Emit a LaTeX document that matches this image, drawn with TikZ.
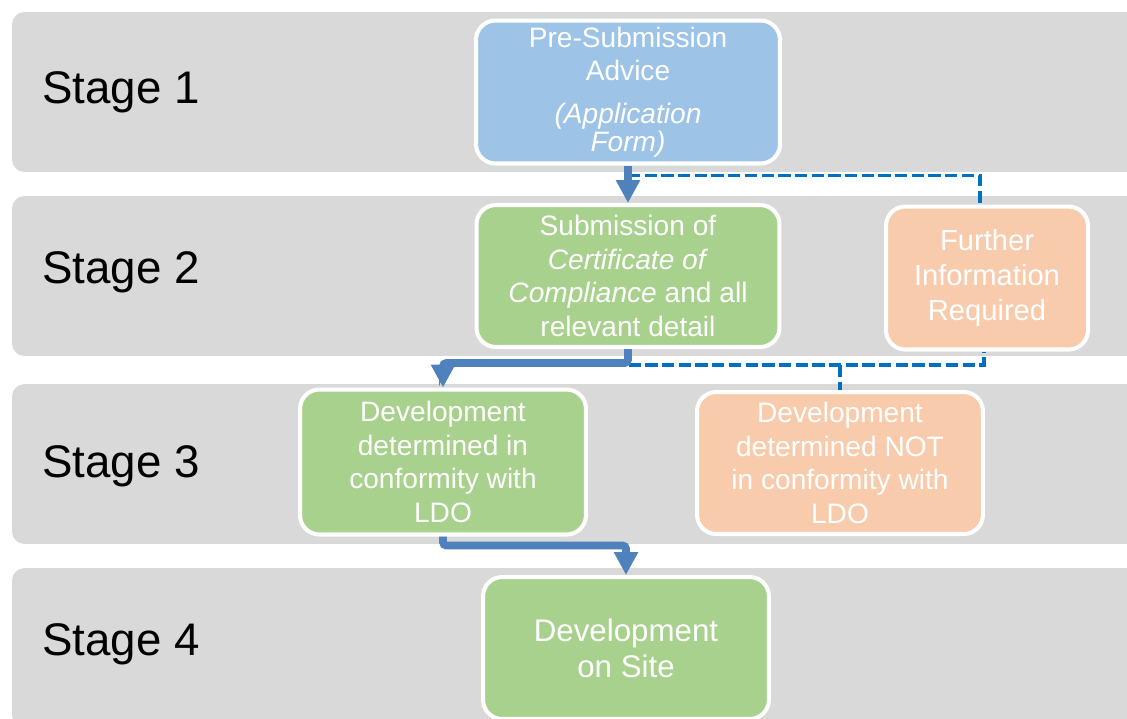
\documentclass[tikz,border=0pt]{standalone}
\usepackage{fontspec}
\setmainfont{Liberation Sans}
\usetikzlibrary{arrows.meta,positioning,calc}
\definecolor{bandgray}{RGB}{217,217,217}
\definecolor{advblue}{RGB}{157,195,230}
\definecolor{okgreen}{RGB}{169,209,142}
\definecolor{peach}{RGB}{248,203,173}
\definecolor{flowblue}{RGB}{79,129,189}
\definecolor{dashblue}{RGB}{0,112,192}

\begin{document}
\begin{tikzpicture}[x=0.02cm, y=-0.02cm,
    band/.style={rectangle, rounded corners=7pt, fill=bandgray,
                 minimum width=22.96cm, minimum height=3.2cm},
    stagelbl/.style={anchor=west, font=\fontsize{26}{30}\selectfont},
    stepbox/.style={rectangle, rounded corners=11pt, draw=white, line width=2.3pt,
                    text=white, align=center, font=\fontsize{16}{19}\selectfont},
    flow/.style={draw=flowblue, line width=4.5pt, rounded corners=2pt,
                 -{Triangle[length=13pt,width=13pt]}},
    dashflow/.style={draw=dashblue, line width=2.2pt, dash pattern=on 7pt off 2.5pt}]
    \useasboundingbox (0,0) rectangle (1127,718);

    % stage rows
    \node[band] (row1) at (586,92) {};
    \node[band] (row2) at (586,276) {};
    \node[band] (row3) at (586,464) {};
    \node[band] (row4) at (586,648) {};
    \node[stagelbl] (lbl1) at (36,92) {Stage 1};
    \node[stagelbl] (lbl2) at (36,272) {Stage 2};
    \node[stagelbl] (lbl3) at (36,466) {Stage 3};
    \node[stagelbl] (lbl4) at (36,644) {Stage 4};

    % steps
    \node[stepbox, fill=advblue, minimum width=6.08cm, minimum height=2.86cm]
        (pre) at (628,92) {Pre-Submission\\Advice\\[5pt]\textit{(Application}\\[-3pt]\textit{Form)}};
    \node[stepbox, fill=okgreen, minimum width=6.06cm, minimum height=2.84cm]
        (sub) at (628,276) {Submission of\\\textit{Certificate of}\\\textit{Compliance} and all\\relevant detail};
    \node[stepbox, fill=peach, minimum width=4.04cm, minimum height=2.86cm,
          font=\fontsize{16.6}{20}\selectfont]
        (further) at (987,278) {Further\\Information\\Required};
    \node[stepbox, fill=okgreen, minimum width=5.72cm, minimum height=2.9cm]
        (conf) at (443,462) {Development\\determined in\\conformity with\\LDO};
    \node[stepbox, fill=peach, minimum width=5.72cm, minimum height=2.84cm]
        (notconf) at (840,463) {Development\\determined NOT\\in conformity with\\LDO};
    \node[stepbox, fill=okgreen, minimum width=5.72cm, minimum height=2.84cm,
          font=\fontsize{17.8}{20.5}\selectfont]
        (site) at (626,648) {Development\\on Site};

    % connectors
    \coordinate (fork1) at ($(pre.south)+(0,10)$);
    \coordinate (merge) at ($(notconf.north)+(0,-25)$);
    \draw[dashflow] (fork1) -| ($(further.north)+(-7,0)$);
    \draw[dashflow] (sub.south) |- (merge) -| ($(further.south)+(-3,0)$);
    \draw[dashflow] (merge) -- (notconf.north);
    \draw[flow] (pre.south) -- (pre.south |- sub.north);
    \draw[flow] (sub.south) -- ++(0,14) -| (conf.north);
    \draw[flow] (conf.south) -- ++(0,9) -| (site.north);
\end{tikzpicture}
\end{document}
